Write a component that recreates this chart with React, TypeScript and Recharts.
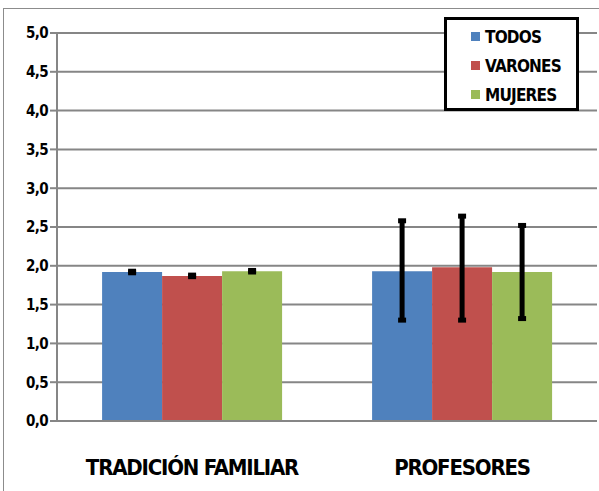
import { Bar, BarChart, CartesianGrid, ErrorBar, Legend, XAxis, YAxis } from "recharts";

const categories = ["TRADICIÓN FAMILIAR", "PROFESORES"];
const todos = [1.92, 1.93];
const varones = [1.87, 1.98];
const mujeres = [1.93, 1.92];
// lower / upper ends of the error bars
const todosRange = [[1.91, 1.93], [1.3, 2.58]];
const varonesRange = [[1.86, 1.88], [1.3, 2.64]];
const mujeresRange = [[1.92, 1.94], [1.32, 2.52]];
const yTicks = [0, 0.5, 1, 1.5, 2, 2.5, 3, 3.5, 4, 4.5, 5];

const series = [
  { key: "todos", label: "TODOS", color: "#4F81BD" },
  { key: "varones", label: "VARONES", color: "#C0504D" },
  { key: "mujeres", label: "MUJERES", color: "#9BBB59" },
];

const offsets = (v: number, r: number[]) => [v - r[0], r[1] - v];

const data = categories.map((name, i) => ({
  name,
  pos: i + 0.5,
  todos: todos[i],
  varones: varones[i],
  mujeres: mujeres[i],
  todosErr: offsets(todos[i], todosRange[i]),
  varonesErr: offsets(varones[i], varonesRange[i]),
  mujeresErr: offsets(mujeres[i], mujeresRange[i]),
}));

const FONT = '"Liberation Sans Narrow", "DejaVu Sans Condensed", Arial, sans-serif';
const GRID = "#868686";

function LegendBox() {
  return (
    <div
      style={{
        border: "3px solid #000",
        background: "#fff",
        width: 129,
        height: 86,
        boxSizing: "content-box",
        fontFamily: FONT,
        fontWeight: 700,
        fontSize: 17,
        letterSpacing: -0.8,
        color: "#000",
        paddingTop: 2,
      }}
    >
      {series.map((s) => (
        <div key={s.key} style={{ display: "flex", alignItems: "center", height: 29, paddingLeft: 24 }}>
          <span style={{ width: 9, height: 9, background: s.color, marginRight: 5, display: "inline-block" }} />
          <span>{s.label}</span>
        </div>
      ))}
    </div>
  );
}

export default function App() {
  return (
    <div style={{ position: "absolute", left: 0, top: 0, width: 599, height: 491, background: "#fff" }}>
      <div style={{ position: "absolute", left: 3, top: 8, width: 596, height: 483, borderLeft: "1px solid #8c8c8c", borderTop: "1px solid #8c8c8c" }} />
      <BarChart
        width={599}
        height={491}
        data={data}
        margin={{ top: 33, right: 2, bottom: 0, left: 0 }}
        barCategoryGap="16.7%"
        barGap={0}
        style={{ position: "absolute", left: 0, top: 0 }}
      >
        <CartesianGrid xAxisId="b" vertical={false} stroke={GRID} strokeWidth={2} />
        <XAxis
          xAxisId="a"
          type="number"
          dataKey="pos"
          domain={[0, 2]}
          ticks={[0, 1, 2]}
          height={9}
          tick={false}
          tickSize={9}
          tickLine={{ stroke: GRID, strokeWidth: 2 }}
          axisLine={{ stroke: GRID, strokeWidth: 2 }}
        />
        <XAxis
          xAxisId="b"
          dataKey="name"
          height={61}
          axisLine={false}
          tickLine={false}
          interval={0}
          tick={{ fill: "#000", fontSize: 22, fontWeight: 700, fontFamily: FONT, letterSpacing: -1.2, dy: 21 }}
        />
        <YAxis
          width={57}
          domain={[0, 5]}
          ticks={yTicks}
          interval={0}
          tickSize={7}
          tickLine={{ stroke: GRID, strokeWidth: 2 }}
          axisLine={{ stroke: GRID, strokeWidth: 2 }}
          tickFormatter={(v: number) => v.toFixed(1).replace(".", ",")}
          tick={{ fill: "#000", fontSize: 15, fontWeight: 700, fontFamily: FONT, letterSpacing: -0.6 }}
        />
        <Legend
          layout="vertical"
          align="center"
          verticalAlign="middle"
          content={() => <LegendBox />}
          wrapperStyle={{ position: "absolute", left: 444, top: 17, width: 135 }}
        />
        {series.map((s) => (
          <Bar key={s.key} xAxisId="b" dataKey={s.key} fill={s.color} isAnimationActive={false}>
            <ErrorBar dataKey={`${s.key}Err`} width={4} strokeWidth={5} stroke="#000" isAnimationActive={false} />
          </Bar>
        ))}
      </BarChart>
    </div>
  );
}
